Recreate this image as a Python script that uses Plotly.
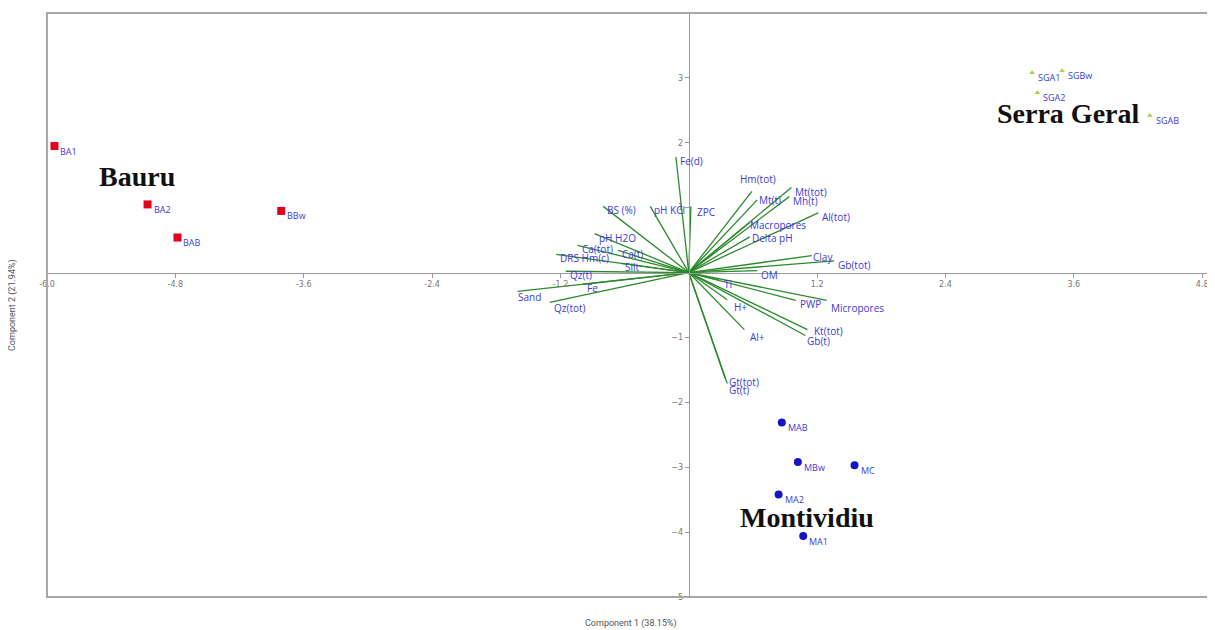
import plotly.graph_objects as go

# ---------------- data ----------------
# PCA scores (Component 1, Component 2)
bauru_names = ["BA1", "BA2", "BAB", "BBw"]
bauru_x = [-5.93, -5.06, -4.78, -3.81]
bauru_y = [1.95, 1.05, 0.54, 0.95]

serra_names = ["SGA1", "SGBw", "SGA2", "SGAB"]
serra_x = [3.21, 3.49, 3.26, 4.31]
serra_y = [3.08, 3.11, 2.77, 2.42]

monti_names = ["MAB", "MBw", "MC", "MA2", "MA1"]
monti_x = [0.87, 1.02, 1.55, 0.84, 1.07]
monti_y = [-2.31, -2.92, -2.97, -3.42, -4.06]

# variable loadings (biplot vectors)
var_names = ["Fe(d)", "pH KCl", "BS (%)", "ZPC", "pH H2O", "Ca(tot)", "Ca(t)",
             "DRS Hm(c)", "Silt", "Qz(t)", "Fe", "Sand", "Qz(tot)",
             "Hm(tot)", "Mt(t)", "Mt(tot)", "Mh(t)", "Al(tot)", "Macropores",
             "Delta pH", "Clay", "Gb(tot)", "OM", "Ti", "H+", "PWP",
             "Micropores", "Al+", "Kt(tot)", "Gb(t)", "Gt(tot)", "Gt(t)"]
var_x = [-0.12, -0.36, -0.80, 0.02, -0.88, -1.04, -0.66,
         -1.24, -0.63, -1.15, -0.99, -1.60, -1.30,
         0.59, 0.64, 0.96, 0.94, 1.21, 0.57,
         0.57, 1.15, 1.36, 0.64, 0.29, 0.36, 1.00,
         1.29, 0.52, 1.11, 1.09, 0.34, 0.36]
var_y = [1.78, 1.02, 1.02, 1.02, 0.60, 0.42, 0.34,
         0.28, 0.14, 0.02, -0.18, -0.29, -0.46,
         1.25, 1.12, 1.31, 1.17, 0.92, 0.77,
         0.55, 0.26, 0.18, 0.03, -0.12, -0.42, -0.43,
         -0.43, -0.88, -0.88, -0.97, -1.63, -1.71]

group_names = ["Bauru", "Serra Geral", "Montividiu"]
group_x = [-5.16, 3.55, 1.11]
group_y = [1.48, 2.45, -3.78]

x_ticks = [-6.0, -4.8, -3.6, -2.4, -1.2, 1.2, 2.4, 3.6, 4.8]
y_ticks = [-5, -4, -3, -2, -1, 1, 2, 3]
x_title = "Component 1 (38.15%)"
y_title = "Component 2 (21.94%)"

# ---------------- styling ----------------
X_RANGE = [-6.0, 4.92]
Y_RANGE = [-5.0, 4.0]
LABEL_BLUE = "#3b3bd6"
VEC_GREEN = "#2b8a2b"
label_font = dict(family="Open Sans", size=10, color=LABEL_BLUE)
# pixel offsets for vector labels (default below)
default_off = (2, -4)
label_off = {"Hm(tot)": (-14, 12), "Micropores": (2, -8), "H+": (5, -7),
             "Al+": (4, -7), "Sand": (-2, -6), "Qz(tot)": (2, -6),
             "Kt(tot)": (5, -1), "Mt(t)": (0, 0), "Macropores": (-2, -2),
             "Delta pH": (0, -1), "Clay": (-1, -1), "ZPC": (4, -6),
             "Gt(t)": (0, -6), "Gb(t)": (0, -5)}

fig = go.Figure()

# vectors
lx, ly = [], []
for vx, vy in zip(var_x, var_y):
    lx += [0, vx, None]
    ly += [0, vy, None]
fig.add_trace(go.Scatter(x=lx, y=ly, mode="lines",
                         line=dict(color=VEC_GREEN, width=1.3),
                         hoverinfo="skip", showlegend=False))

# score points
fig.add_trace(go.Scatter(x=bauru_x, y=bauru_y, mode="markers",
                         marker=dict(symbol="square", size=8, color="#e3001b"),
                         showlegend=False))
fig.add_trace(go.Scatter(x=serra_x, y=serra_y, mode="markers",
                         marker=dict(symbol="triangle-up", size=5, color="#a8d43a"),
                         showlegend=False))
fig.add_trace(go.Scatter(x=monti_x, y=monti_y, mode="markers",
                         marker=dict(symbol="circle", size=8, color="#1414c4"),
                         showlegend=False))

annotations = []
for n, vx, vy in zip(var_names, var_x, var_y):
    dx, dy = label_off.get(n, default_off)
    annotations.append(dict(x=vx, y=vy, text=n, showarrow=False,
                            xanchor="left", yanchor="middle",
                            xshift=dx, yshift=dy, font=label_font))
for names, xs, ys in [(bauru_names, bauru_x, bauru_y),
                      (serra_names, serra_x, serra_y),
                      (monti_names, monti_x, monti_y)]:
    for n, px, py in zip(names, xs, ys):
        annotations.append(dict(x=px, y=py, text=n, showarrow=False,
                                xanchor="left", yanchor="middle",
                                xshift=4, yshift=-5,
                                font=dict(family="Open Sans", size=9, color=LABEL_BLUE)))
for n, gx, gy in zip(group_names, group_x, group_y):
    annotations.append(dict(x=gx, y=gy, text="<b>%s</b>" % n, showarrow=False,
                            xanchor="center", yanchor="middle",
                            font=dict(family="Liberation Serif", size=28, color="#111111")))

annotations.append(dict(x=0.5, y=0, xref="paper", yref="paper", text=x_title,
                        showarrow=False, yanchor="top", yshift=-19,
                        font=dict(family="Roboto", size=9, color="#555555")))
annotations.append(dict(x=0, y=0.5, xref="paper", yref="paper", text=y_title,
                        showarrow=False, xanchor="center", xshift=-35, textangle=-90,
                        font=dict(family="Roboto", size=9, color="#555555")))

tick_font = dict(family="DejaVu Sans", size=8, color="#777777")
# the page body has an 8px margin, so the figure is made 8px smaller
fig.update_layout(
    width=1207, height=622,
    margin=dict(l=39, r=0, t=5, b=33),
    plot_bgcolor="white", paper_bgcolor="white",
    xaxis=dict(range=X_RANGE, showgrid=False, zeroline=False,
               anchor="free", position=(0 - Y_RANGE[0]) / (Y_RANGE[1] - Y_RANGE[0]),
               showline=True, linecolor="#9a9a9a", linewidth=1,
               tickmode="array", tickvals=x_ticks,
               ticktext=["%.1f" % t for t in x_ticks],
               ticks="outside", ticklen=4, tickcolor="#9a9a9a",
               tickfont=tick_font),
    yaxis=dict(range=Y_RANGE, showgrid=False, zeroline=False,
               anchor="free", position=(0 - X_RANGE[0]) / (X_RANGE[1] - X_RANGE[0]),
               showline=True, linecolor="#9a9a9a", linewidth=1,
               tickmode="array", tickvals=y_ticks,
               ticks="outside", ticklen=4, tickcolor="#9a9a9a",
               tickfont=tick_font),
    annotations=annotations,
    shapes=[dict(type="path", xref="paper", yref="paper",
                 path="M 1,1 L 0,1 L 0,0 L 1,0",
                 line=dict(color="#a8a8a8", width=2))],
)

fig.write_html("out.html")
